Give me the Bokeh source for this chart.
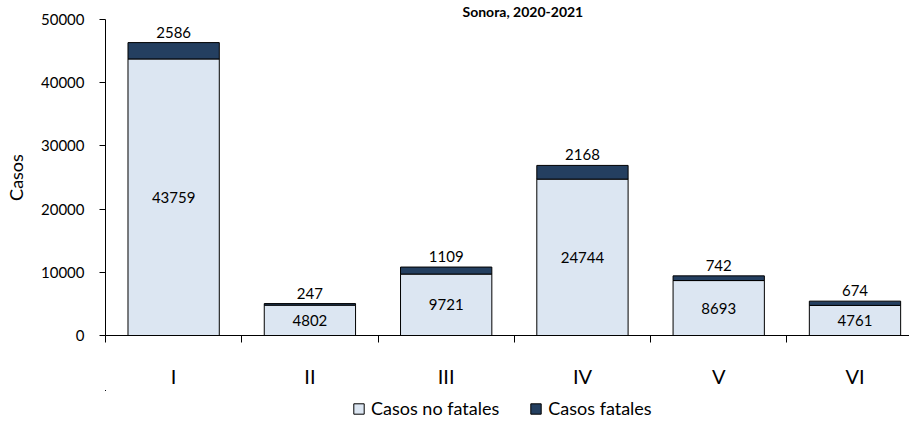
from bokeh.plotting import figure
from bokeh.layouts import column
from bokeh.models import FixedTicker, Range1d, Legend, LegendItem, ColumnDataSource
from bokeh.embed import file_html
from bokeh.resources import INLINE
from bokeh.core.properties import value

categories = ["I", "II", "III", "IV", "V", "VI"]
no_fatales = [43759, 4802, 9721, 24744, 8693, 4761]
fatales = [2586, 247, 1109, 2168, 742, 674]
y_ticks = [0, 10000, 20000, 30000, 40000, 50000]
title_text = "Sonora, 2020-2021"
series_names = ["Casos no fatales", "Casos fatales"]

FONT = "Lato"
LIGHT = "#dce6f2"
DARK = "#243f60"

x = [i + 0.5 for i in range(len(categories))]
tops = [a + b for a, b in zip(no_fatales, fatales)]
mids = [a / 2 for a in no_fatales]

src = ColumnDataSource(dict(
    x=x, nf=no_fatales, f=fatales, tops=tops, mids=mids,
    nf_lbl=[str(v) for v in no_fatales], f_lbl=[str(v) for v in fatales],
))

p = figure(width=909, height=390, output_backend="svg", toolbar_location=None,
           x_range=Range1d(0, 5.9), y_range=Range1d(0, 50000),
           min_border_left=105, min_border_right=0, min_border_top=17,
           min_border_bottom=53)
p.outline_line_color = None
p.xgrid.visible = False
p.ygrid.visible = False
p.background_fill_color = "white"

p.title.text = title_text
p.title.text_font = FONT
p.title.text_font_style = "bold"
p.title.text_font_size = "14px"
p.title.align = "left"
p.title.offset = 357
p.title.standoff = 0
p.title.text_color = "black"

r1 = p.vbar(x="x", bottom=0, top="nf", width=0.67, source=src,
            fill_color=LIGHT, line_color="black", line_width=1)
r2 = p.vbar(x="x", bottom="nf", top="tops", width=0.67, source=src,
            fill_color=DARK, line_color="black", line_width=1)

p.text(x="x", y="mids", text="nf_lbl", source=src, text_align="center",
       text_baseline="middle", text_font=value(FONT), text_font_size="15px",
       text_color="black")
p.text(x="x", y="tops", text="f_lbl", source=src, text_align="center",
       text_baseline="bottom", y_offset=-5, text_font=value(FONT),
       text_font_size="15px", text_color="black")

# y axis
p.yaxis.ticker = FixedTicker(ticks=y_ticks)
p.yaxis.minor_tick_line_color = None
p.yaxis.major_tick_in = 0
p.yaxis.major_tick_out = 6
p.yaxis.major_label_standoff = 15
p.yaxis.major_label_text_font = FONT
p.yaxis.major_label_text_font_size = "15px"
p.yaxis.major_label_text_color = "black"
p.yaxis.axis_label = "Casos"
p.yaxis.axis_label_text_font = FONT
p.yaxis.axis_label_text_font_size = "18px"
p.yaxis.axis_label_text_font_style = "normal"
p.yaxis.axis_label_text_color = "black"
p.yaxis.axis_label_standoff = 11
p.yaxis.axis_line_color = "black"
p.yaxis.major_tick_line_color = "black"

# x axis: boundary ticks as minor ticks, labels at category centres
p.xaxis.ticker = FixedTicker(ticks=x, minor_ticks=list(range(len(categories) + 1)))
p.xaxis.major_label_overrides = {v: c for v, c in zip(x, categories)}
p.xaxis.major_tick_line_color = None
p.xaxis.major_tick_out = 0
p.xaxis.major_tick_in = 0
p.xaxis.minor_tick_in = 0
p.xaxis.minor_tick_out = 7
p.xaxis.minor_tick_line_color = "black"
p.xaxis.axis_line_color = "black"
p.xaxis.major_label_standoff = 21
p.xaxis.major_label_text_font = FONT
p.xaxis.major_label_text_font_size = "20px"
p.xaxis.major_label_text_color = "black"

# legend strip (its bars lie outside its visible ranges; only the legend shows)
lf = figure(width=909, height=31, output_backend="svg", toolbar_location=None,
            x_range=Range1d(100, 1000), y_range=Range1d(-100, -69),
            x_axis_location=None, y_axis_location=None,
            min_border=0, min_border_left=0, min_border_right=0,
            min_border_top=0, min_border_bottom=0)
lf.grid.visible = False
lf.outline_line_color = None
l1 = lf.vbar(x="x", bottom=0, top="nf", width=0.67, source=src,
             fill_color=LIGHT, line_color="black", line_width=1)
l2 = lf.vbar(x="x", bottom="nf", top="tops", width=0.67, source=src,
             fill_color=DARK, line_color="black", line_width=1)
legend = Legend(items=[LegendItem(label=series_names[0], renderers=[l1]),
                       LegendItem(label=series_names[1], renderers=[l2])],
                orientation="horizontal", location=(247, 2),
                glyph_width=13, glyph_height=13, label_standoff=6, spacing=30,
                padding=4, margin=0, border_line_color=None,
                background_fill_alpha=0,
                label_text_font=FONT, label_text_font_size="18px",
                label_text_color="black")
lf.add_layout(legend, "center")

open("out.html", "w").write(file_html(column(p, lf), INLINE))
